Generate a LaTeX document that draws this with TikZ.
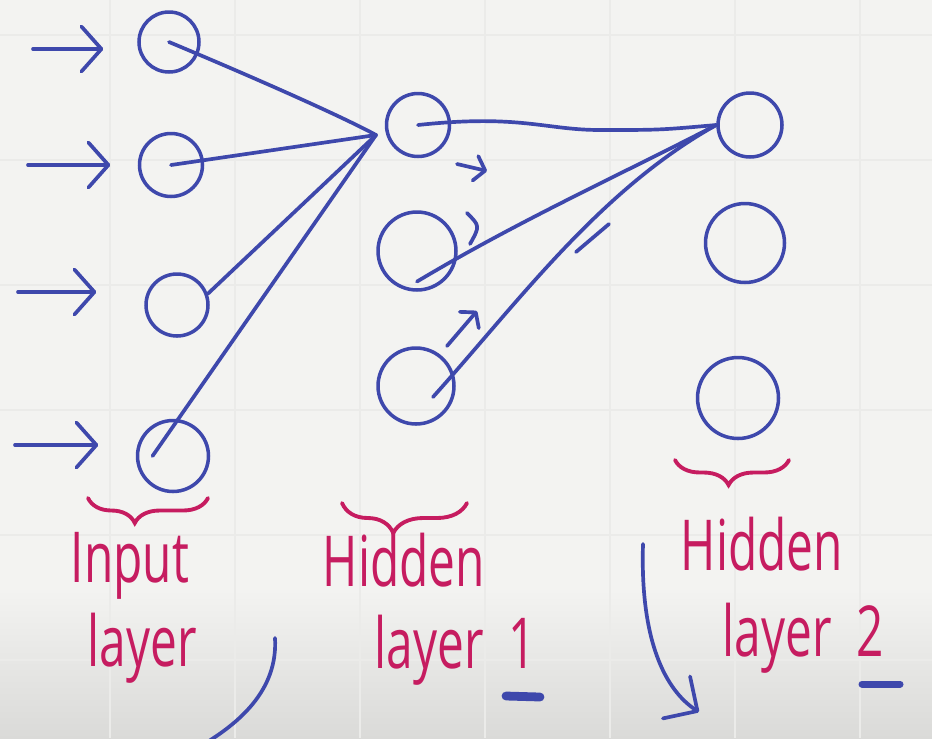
\documentclass[tikz,border=0pt]{standalone}
\usepackage{fontspec}
\usepackage{tikz}
\usetikzlibrary{arrows.meta,positioning,calc,decorations.pathreplacing}
\newfontfamily\handfont[FakeStretch=0.68]{Open Sans}
\definecolor{board}{RGB}{243,243,241}
\definecolor{boarddark}{RGB}{218,218,216}
\definecolor{gridgray}{RGB}{235,235,233}
\definecolor{inkblue}{RGB}{62,72,172}
\definecolor{inkpink}{RGB}{198,28,96}
\tikzset{
  neuron/.style={circle,draw=inkblue,line width=2pt,minimum size=#1,inner sep=0pt},
  wire/.style={draw=inkblue,line width=2.1pt,line cap=round,line join=round},
  feed/.style={wire,-{Straight Barb[length=4mm,width=9mm,round]}},
  nudge/.style={wire,-{Straight Barb[length=2mm,width=5mm,round]}},
  brc/.style={draw=inkpink,line width=2.2pt,line cap=round,decorate,decoration={brace,mirror,amplitude=#1}},
  brc/.default=0.5cm,
  lbl/.style={text=inkpink,font=\handfont\fontsize{40}{48}\selectfont,inner sep=0pt,anchor=base},
  gridline/.style={draw=gridgray,line width=0.6pt},
  underbar/.style={draw=inkblue,line width=#1,line cap=round}
}

\begin{document}
\begin{tikzpicture}[x=0.02cm,y=-0.02cm]
\path[use as bounding box,clip] (0,0) rectangle (932,738);
\fill[board] (0,0) rectangle (932,738);
\shade[top color=board,bottom color=boarddark] (0,590) rectangle (932,738);
\foreach \gx in {110,235,...,860} \draw[gridline] (\gx,0) -- (\gx,738);
\foreach \gy in {35,160,...,660} \draw[gridline] (0,\gy) -- (932,\gy);

% neurons
\node[neuron=1.2cm]  (in1) at (169,42)  {};
\node[neuron=1.26cm] (in2) at (171,165) {};
\node[neuron=1.24cm] (in3) at (177,305) {};
\node[neuron=1.42cm] (in4) at (173,456) {};
\node[neuron=1.26cm] (h1) at (418,125) {};
\node[neuron=1.56cm] (h2) at (417,251) {};
\node[neuron=1.52cm] (h3) at (416,386) {};
\node[neuron=1.28cm] (g1) at (750,125) {};
\node[neuron=1.58cm] (g2) at (745,243) {};
\node[neuron=1.62cm] (g3) at (738,398) {};

% inputs
\foreach \i/\sx/\sy/\gap in {1/33/49/0.68cm,2/28/165/0.55cm,3/18/292/0.96cm,4/15/445/0.75cm}{
  \coordinate (src\i) at (\sx,\sy);
  \draw[feed,shorten >=\gap] (src\i) -- (src\i -| in\i.west);
}

% weights into hidden layer 1
\coordinate (hub) at (376,135);
\draw[wire] (in1.center) .. controls (260,80) and (345,118) .. (hub);
\draw[wire] (in2.center) -- (hub);
\draw[wire] (in3.20) -- (hub);
\draw[wire] ($(in4.center)!0.55!(in4.west)$) -- (hub);

% weights into hidden layer 2
\draw[wire] (h1.center) .. controls (520,114) and (545,130) .. (600,130) .. controls (660,130) .. (g1.west);
\draw[wire] ($(h2.center)!0.75!(h2.south)$) .. controls (520,220) and (620,175) .. (g1.west);
\draw[wire] ($(h3.center)+(17,11)$) .. controls (520,300) and (600,190) .. (g1.west);
\coordinate (tickA) at (576,252);
\coordinate (tickB) at (609,224);
\draw[wire] (tickA) -- (tickB);

% small arrows at hidden layer 1
\coordinate (sa1) at (457,164);
\coordinate (sb1) at (487,171);
\draw[nudge] (sa1) -- (sb1);
\coordinate (sa2) at (467,213);
\coordinate (sb2) at (470,244);
\draw[wire] (sa2) .. controls (480,226) .. (sb2);
\coordinate (sa3) at (447,346);
\coordinate (sb3) at (477,311);
\draw[nudge] (sa3) -- (sb3);

% braces and names
\draw[brc=0.5cm,decoration={aspect=0.39}] (88,498) -- (208,498);
\draw[brc=0.6cm,decoration={aspect=0.41}] (342,503) -- (467,503);
\draw[brc=0.5cm,decoration={aspect=0.47}] (675,460) -- (789,460);

\node[lbl] (inname) at (130,582) {Input};
\node[lbl] (inlayer) at (142,666) {layer};
\node[lbl] (honame) at (404,586) {Hidden};
\node[lbl] (holayer) at (455,668) {layer\hspace{14pt}1};
\node[lbl] (htname) at (762,570) {Hidden};
\node[lbl] (htlayer) at (803,656) {layer\hspace{14pt}2};

\draw[underbar=5pt] (506,696) -- (540,697);
\draw[underbar=4pt] (862,684) -- (900,684);

% pen strokes at the bottom
\coordinate (swA) at (643,544);
\coordinate (swB) at (699,712);
\draw[wire,-{Straight Barb[length=5mm,width=10mm,round]}] (swA) .. controls (640,640) and (665,690) .. (swB);
\coordinate (slA) at (275,638);
\coordinate (slB) at (190,752);
\draw[wire] (slA) .. controls (278,690) and (240,725) .. (slB);
\end{tikzpicture}
\end{document}
